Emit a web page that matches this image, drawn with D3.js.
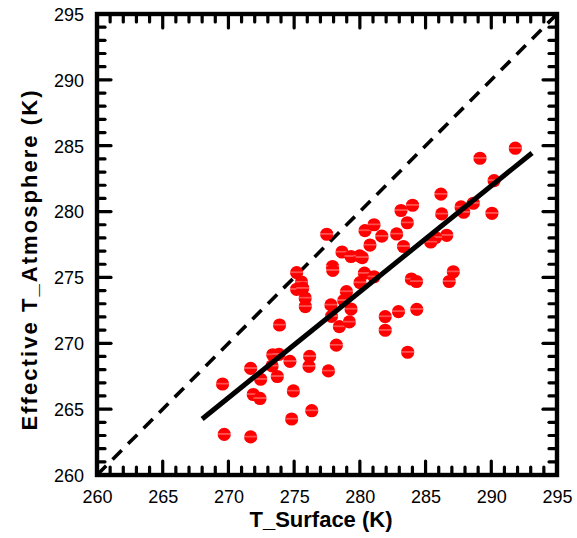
<!DOCTYPE html>
<html>
<head>
<meta charset="utf-8">
<script src="https://cdn.jsdelivr.net/npm/d3@7"></script>
<style>
  html, body { margin: 0; padding: 0; background: #fff; }
  svg { display: block; }
</style>
</head>
<body>
<svg id="chart" width="577" height="538"></svg>
<script>
// ---- data ----
const tSurface = [269.55, 269.68, 271.69, 271.69, 271.89, 272.40, 272.45, 273.37, 273.85, 273.32,
  273.72, 274.68, 274.94, 274.81, 276.18, 276.13, 276.34, 277.61, 278.21, 277.48,
  278.64, 277.92, 277.94, 275.19, 275.56, 275.19, 275.65, 275.84, 275.85, 273.89,
  277.80, 277.84, 278.44, 278.98, 278.78, 279.33, 279.20, 279.33, 279.99, 280.18,
  280.35, 281.08, 280.01, 280.39, 281.08, 281.67, 282.80, 283.61, 280.77, 283.32,
  283.13, 284.01, 286.17, 286.23, 286.61, 285.76, 285.39, 287.70, 288.63, 289.14,
  290.21, 290.05, 291.83, 283.92, 284.31, 287.11, 286.80, 281.93, 282.94, 284.33,
  281.93, 283.64, 287.90];
const tAtmosphere = [266.91, 263.09, 262.89, 268.09, 266.11, 265.81, 267.27, 269.13, 269.16, 268.28,
  267.48, 268.63, 266.38, 264.25, 269.00, 268.25, 264.88, 267.90, 269.86, 278.28,
  276.93, 275.83, 275.53, 275.36, 274.65, 274.10, 274.18, 273.44, 272.79, 271.39,
  272.91, 272.04, 271.26, 273.92, 273.25, 272.60, 271.62, 276.59, 276.63, 276.51,
  275.32, 275.05, 274.60, 278.55, 279.00, 278.13, 278.30, 279.15, 277.46, 277.35,
  280.08, 280.48, 281.32, 279.82, 278.20, 278.03, 277.69, 280.35, 280.63, 284.05,
  282.35, 279.87, 284.81, 274.88, 274.69, 275.43, 274.69, 272.02, 272.41, 272.58,
  270.99, 269.32, 279.95];
const fitX = [268.0, 293.1];
const fitY = [264.25, 284.45];
const oneToOne = [260, 295];
const xTicks = [260, 265, 270, 275, 280, 285, 290, 295];
const yTicks = [260, 265, 270, 275, 280, 285, 290, 295];
const xTitle = "T_Surface (K)";
const yTitle = "Effective T_Atmosphere (K)";

// ---- layout ----
const L = 97, R = 557, T = 14, B = 475;
const svg = d3.select("#chart");
const x = d3.scaleLinear().domain([260, 295]).range([L, R]);
const y = d3.scaleLinear().domain([260, 295]).range([B, T]);

const defs = svg.append("defs");
const grad = defs.append("linearGradient").attr("id", "dotGrad")
  .attr("x1", 0).attr("y1", 0).attr("x2", 0).attr("y2", 1);
[[0, "#ff0000"], [0.38, "#ff0000"], [0.43, "#ff4e4e"], [0.51, "#ff4e4e"], [0.57, "#ff0000"], [1, "#ff0000"]]
  .forEach(([o, c]) => grad.append("stop").attr("offset", o).attr("stop-color", c));

const clip = defs.append("clipPath").attr("id", "plotClip");
clip.append("rect").attr("x", L).attr("y", T).attr("width", R - L).attr("height", B - T);

// 1:1 dashed line
svg.append("line")
  .attr("clip-path", "url(#plotClip)")
  .attr("x1", x(oneToOne[0])).attr("y1", y(oneToOne[0]))
  .attr("x2", x(oneToOne[1])).attr("y2", y(oneToOne[1]))
  .attr("stroke", "#000").attr("stroke-width", 3.6)
  .attr("stroke-dasharray", "13,9");

// points
const pts = d3.zip(tSurface, tAtmosphere);
svg.append("g").selectAll("circle").data(pts).join("circle")
  .attr("cx", d => x(d[0])).attr("cy", d => y(d[1]))
  .attr("r", 6.6).attr("fill", "url(#dotGrad)");

// fit line
svg.append("line")
  .attr("x1", x(fitX[0])).attr("y1", y(fitY[0]))
  .attr("x2", x(fitX[1])).attr("y2", y(fitY[1]))
  .attr("stroke", "#000").attr("stroke-width", 5);

// axes (ticks inward on all four sides)
const minor = d3.range(260, 296, 1);
function tickLen(v) { return v % 5 === 0 ? 14 : 8; }
const tk = svg.append("g").attr("stroke", "#000").attr("stroke-width", 3.2).attr("stroke-linecap", "round");
minor.forEach(v => {
  const L1 = tickLen(v);
  if (v > 260 && v < 295) {
    tk.append("line").attr("x1", x(v)).attr("x2", x(v)).attr("y1", B).attr("y2", B - L1);
    tk.append("line").attr("x1", x(v)).attr("x2", x(v)).attr("y1", T).attr("y2", T + L1);
    tk.append("line").attr("y1", y(v)).attr("y2", y(v)).attr("x1", L).attr("x2", L + L1);
    tk.append("line").attr("y1", y(v)).attr("y2", y(v)).attr("x1", R).attr("x2", R - L1);
  }
});

// frame
svg.append("rect").attr("x", L).attr("y", T).attr("width", R - L).attr("height", B - T)
  .attr("fill", "none").attr("stroke", "#000").attr("stroke-width", 4.4);

// axis generators for labels only
const xAxis = d3.axisBottom(x).tickValues(xTicks).tickSize(0).tickPadding(0).tickFormat(d3.format("d"));
const gx = svg.append("g").attr("transform", `translate(0,${B})`).call(xAxis);
gx.select(".domain").remove();
gx.selectAll("text").attr("font-family", "Liberation Sans, Arial, sans-serif")
  .attr("font-size", 18).attr("fill", "#000").attr("dy", null).attr("y", 28);

const yAxis = d3.axisLeft(y).tickValues(yTicks).tickSize(0).tickPadding(0).tickFormat(d3.format("d"));
const gy = svg.append("g").attr("transform", `translate(${L},0)`).call(yAxis);
gy.select(".domain").remove();
gy.selectAll("text").attr("font-family", "Liberation Sans, Arial, sans-serif")
  .attr("font-size", 18).attr("fill", "#000").attr("x", -13).attr("dy", "0.35em");

// titles
svg.append("text").attr("x", (L + R) / 2 - 6).attr("y", 527)
  .attr("text-anchor", "middle").attr("font-family", "Liberation Sans, Arial, sans-serif")
  .attr("font-weight", "bold").attr("font-size", 22).attr("fill", "#000").text(xTitle);

svg.append("text").attr("transform", `translate(37,${(T + B) / 2 + 16}) rotate(-90)`)
  .attr("text-anchor", "middle").attr("font-family", "Liberation Sans, Arial, sans-serif")
  .attr("font-weight", "bold").attr("font-size", 22).attr("fill", "#000")
  .attr("textLength", 340).attr("lengthAdjust", "spacing").text(yTitle);
</script>
</body>
</html>
